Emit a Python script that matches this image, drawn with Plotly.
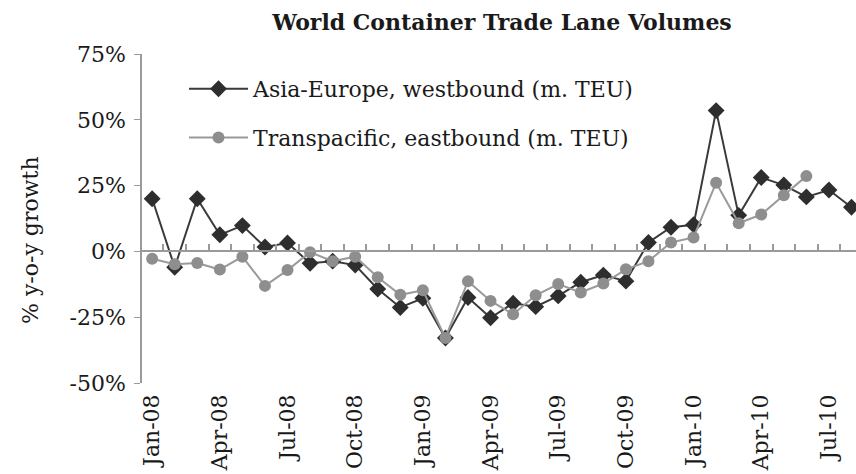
import plotly.graph_objects as go

months = ["Jan-08", "Feb-08", "Mar-08", "Apr-08", "May-08", "Jun-08", "Jul-08", "Aug-08",
          "Sep-08", "Oct-08", "Nov-08", "Dec-08", "Jan-09", "Feb-09", "Mar-09", "Apr-09",
          "May-09", "Jun-09", "Jul-09", "Aug-09", "Sep-09", "Oct-09", "Nov-09", "Dec-09",
          "Jan-10", "Feb-10", "Mar-10", "Apr-10", "May-10", "Jun-10", "Jul-10", "Aug-10"]

asia_europe = [20, -6, 20, 6.3, 9.8, 1.7, 3.2, -4.5, -3.7, -5.2, -14.3, -21.3, -17.8, -32.9,
               -17.5, -25.2, -19.7, -21, -16.9, -11.7, -9, -11.3, 3.4, 9.2, 10.1, 53.5, 13.7,
               28.1, 25.2, 20.7, 23.3, 16.8]

transpacific = [-2.8, -4.9, -4.4, -6.9, -2, -13.1, -7.1, -0.3, -3.7, -2, -9.8, -16.5, -14.8,
                -32.9, -11.3, -18.8, -23.9, -16.7, -12.4, -15.6, -12.2, -6.8, -3.7, 3.4, 5.3,
                26.1, 10.7, 14, 21.3, 28.6]

tick_labels = months[::3]
y_ticks = [-50, -25, 0, 25, 50, 75]

FONT = "DejaVu Serif"
TXT = "#1a1a1a"
AXIS = "#9a9a9a"

fig = go.Figure()
fig.add_trace(go.Scatter(
    x=months, y=asia_europe, mode="lines+markers",
    name="Asia-Europe, westbound (m. TEU)", legendgroup="a",
    line=dict(color="#3a3a3a", width=2),
    marker=dict(symbol="diamond", size=13, color="#2e2e2e"),
))
fig.add_trace(go.Scatter(
    x=months[:len(transpacific)], y=transpacific, mode="lines+markers",
    name="Transpacific, eastbound (m. TEU)", legendgroup="b",
    line=dict(color="#9a9a9a", width=2),
    marker=dict(symbol="circle", size=12, color="#8e8e8e"),
))
# invisible helper so the zero-line axis (x2) is populated and draws its ticks
fig.add_trace(go.Scatter(
    x=list(range(len(asia_europe))), y=asia_europe, xaxis="x2", mode="lines",
    line=dict(width=0, color="rgba(0,0,0,0)"), opacity=0,
    showlegend=False, hoverinfo="skip",
))

xr = [-0.45, 31.2]
yr = [-50, 75]

fig.update_layout(
    width=856, height=474,
    margin=dict(l=142, r=0, t=54, b=91),
    plot_bgcolor="white", paper_bgcolor="white",
    font=dict(family=FONT, color=TXT, size=21),
    title=dict(text="<b>World Container Trade Lane Volumes</b>",
               font=dict(family=FONT, size=22, color=TXT),
               x=502 / 856, xanchor="center", y=1 - 22 / 474, yanchor="middle"),
    xaxis=dict(type="category", categoryorder="array", categoryarray=months,
               range=xr, tickmode="array", tickvals=tick_labels, ticktext=tick_labels,
               tickangle=-90, showgrid=False, showline=False, zeroline=False,
               ticks="", tickfont=dict(family=FONT, size=22), ticklabelstandoff=6),
    xaxis2=dict(overlaying="x", anchor="free", position=(0 - yr[0]) / (yr[1] - yr[0]),
                type="linear", range=xr, tickmode="linear", tick0=0.5, dtick=1,
                showticklabels=False, ticks="inside", ticklen=7, tickcolor=AXIS,
                tickwidth=1.5, showline=True, linecolor=AXIS, linewidth=1.5,
                showgrid=False, zeroline=False),
    yaxis=dict(range=yr, tickmode="array", tickvals=y_ticks,
               ticktext=[f"{v}%" for v in y_ticks],
               showgrid=False, zeroline=False, showline=True, linecolor=AXIS,
               linewidth=1.5, ticks="outside", ticklen=6, tickcolor=AXIS,
               tickfont=dict(family=FONT, size=22), ticklabelstandoff=4),
    showlegend=True,
    legend=dict(x=(184 - 142) / 714, y=(383 - 68) / 329, xanchor="left", yanchor="top",
                bgcolor="rgba(0,0,0,0)", font=dict(family=FONT, size=22),
                itemwidth=59, traceorder="grouped", tracegroupgap=17),
    annotations=[dict(text="% y-o-y growth", textangle=-90, xref="paper", yref="paper",
                      x=(30 - 142) / 714, y=(383 - 240) / 329, xanchor="center",
                      yanchor="middle", showarrow=False,
                      font=dict(family=FONT, size=22, color=TXT))],
)

fig.write_html("out.html", config={"displayModeBar": False},
               post_script="document.body.style.margin='0';")
